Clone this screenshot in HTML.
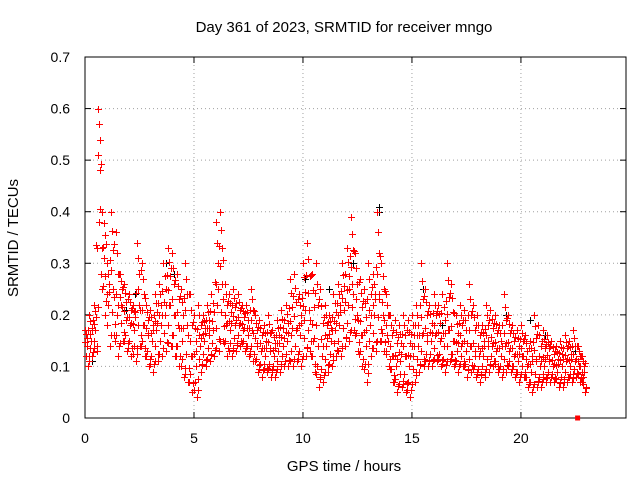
<!DOCTYPE html>
<html><head><meta charset="utf-8"><style>
body{margin:0;background:#fff;}
svg{display:block;font-family:"Liberation Sans",sans-serif;}
</style></head><body>
<svg id="chart" width="640" height="480">
<text x="344" y="32" text-anchor="middle" font-size="15">Day 361 of 2023, SRMTID for receiver mngo</text>
<text x="344" y="471" text-anchor="middle" font-size="15">GPS time / hours</text>
<text transform="translate(18,238) rotate(-90)" text-anchor="middle" font-size="15">SRMTID / TECUs</text>
<g id="grid"></g><g id="axes"></g><g id="marks"></g>
</svg>
<script>
const times=[0,0.2,0.4,0.6,0.8,1,1.2,1.4,1.6,1.8,2,2.2,2.4,2.6,2.8,3,3.2,3.4,3.6,3.8,4,4.2,4.4,4.6,4.8,5,5.2,5.4,5.6,5.8,6,6.2,6.4,6.6,6.8,7,7.2,7.4,7.6,7.8,8,8.2,8.4,8.6,8.8,9,9.2,9.4,9.6,9.8,10,10.2,10.4,10.6,10.8,11,11.2,11.4,11.6,11.8,12,12.2,12.4,12.6,12.8,13,13.2,13.4,13.6,13.8,14,14.2,14.4,14.6,14.8,15,15.2,15.4,15.6,15.8,16,16.2,16.4,16.6,16.8,17,17.2,17.4,17.6,17.8,18,18.2,18.4,18.6,18.8,19,19.2,19.4,19.6,19.8,20,20.2,20.4,20.6,20.8,21,21.2,21.4,21.6,21.8,22,22.2,22.4,22.6,22.8];
const hiVals=[.17,.20,.22,.60,.40,.30,.40,.36,.28,.26,.24,.22,.34,.30,.22,.21,.24,.26,.30,.33,.32,.28,.25,.30,.24,.20,.22,.20,.22,.24,.38,.40,.26,.24,.25,.24,.22,.22,.25,.20,.19,.18,.20,.17,.19,.21,.22,.27,.28,.24,.30,.34,.28,.30,.25,.22,.20,.24,.26,.30,.33,.39,.32,.27,.25,.30,.28,.40,.30,.24,.20,.19,.18,.20,.19,.20,.22,.30,.25,.22,.24,.22,.24,.30,.26,.20,.22,.21,.26,.22,.20,.18,.22,.21,.20,.18,.24,.20,.18,.17,.18,.16,.15,.20,.18,.17,.16,.15,.14,.15,.16,.15,.17,.14,.12];
const midVals=[.14,.15,.17,.48,.31,.22,.25,.20,.22,.19,.18,.17,.22,.18,.16,.15,.17,.18,.20,.22,.20,.18,.15,.18,.12,.10,.14,.15,.16,.17,.22,.26,.18,.17,.18,.18,.17,.16,.17,.14,.13,.12,.13,.12,.13,.14,.15,.16,.17,.16,.19,.21,.15,.14,.12,.14,.15,.17,.18,.21,.22,.26,.20,.16,.14,.18,.20,.24,.20,.16,.12,.10,.11,.12,.10,.12,.14,.16,.15,.15,.16,.15,.14,.17,.15,.13,.14,.13,.14,.12,.12,.12,.14,.14,.13,.12,.14,.13,.12,.11,.12,.10,.09,.11,.10,.10,.11,.10,.09,.10,.11,.10,.11,.10,.08];
const loVals=[.10,.12,.13,.28,.20,.14,.16,.12,.15,.13,.12,.11,.14,.12,.10,.09,.11,.12,.13,.14,.12,.10,.08,.07,.05,.04,.09,.10,.11,.12,.13,.15,.12,.12,.13,.14,.13,.12,.11,.09,.08,.09,.08,.08,.09,.10,.10,.10,.11,.10,.12,.13,.09,.06,.07,.09,.10,.12,.12,.14,.15,.17,.13,.10,.07,.12,.13,.15,.13,.10,.07,.05,.06,.05,.04,.07,.09,.10,.10,.10,.11,.10,.09,.11,.10,.09,.10,.08,.09,.08,.07,.08,.09,.10,.09,.08,.09,.09,.08,.07,.08,.06,.05,.06,.06,.07,.07,.07,.06,.06,.07,.07,.08,.07,.05];
const blackTimes=[0.3,1.9,2.3,3.7,4.1,7.1,10.1,11.2,12.3,13.5,13.5,15.5,16.4,19.3,20.4,21.1,22.5];
const blackVals=[.11,.21,.24,.30,.28,.21,.27,.25,.30,.41,.40,.25,.18,.20,.19,.16,.13];
const xTicks=[0,5,10,15,20];
const yTicks=[0,0.1,0.2,0.3,0.4,0.5,0.6,0.7];
const yTickLabels=["0","0.1","0.2","0.3","0.4","0.5","0.6","0.7"];

const L=85,R=626,T=57,B=418,XMAX=24.82,YMAX=0.7;
const xs=v=>L+v/XMAX*(R-L);
const ys=v=>B-v/YMAX*(B-T);
const NS="http://www.w3.org/2000/svg";
function mk(tag,attrs,parent){const e=document.createElementNS(NS,tag);for(const k in attrs)e.setAttribute(k,attrs[k]);parent.appendChild(e);return e;}
const grid=document.getElementById('grid'),axes=document.getElementById('axes'),marks=document.getElementById('marks');
xTicks.forEach(t=>{
  const x=xs(t);
  if(t>0){const g=mk('line',{x1:x,x2:x,y1:T,y2:B,stroke:'#a0a0a0','stroke-dasharray':'1,3'},grid);
  
  }
  mk('line',{x1:x,x2:x,y1:B,y2:B-6,stroke:'#000'},axes);
  mk('line',{x1:x,x2:x,y1:T,y2:T+6,stroke:'#000'},axes);
  const lb=mk('text',{x:x,y:B+25,'text-anchor':'middle','font-size':14},axes);lb.textContent=t;
  
  
});
yTicks.forEach((t,i)=>{
  const y=ys(t);
  if(i>0&&i<yTicks.length-1){const g=mk('line',{x1:L,x2:R,y1:y,y2:y,stroke:'#a0a0a0','stroke-dasharray':'1,3'},grid);
  
  }
  mk('line',{x1:L,x2:L+6,y1:y,y2:y,stroke:'#000'},axes);
  mk('line',{x1:R,x2:R-6,y1:y,y2:y,stroke:'#000'},axes);
  const lb=mk('text',{x:L-15,y:y+5,'text-anchor':'end','font-size':14},axes);lb.textContent=yTickLabels[i];
  
  
});
const frame=mk('rect',{x:L,y:T,width:R-L,height:B-T,fill:'none',stroke:'#000'},axes);


function plus(t,v,c){
  const x=Math.round(xs(t))+0.5,y=Math.round(ys(v))+0.5;
  const p=mk('path',{d:`M${x-3.5},${y}h7M${x},${y-3.5}v7`,stroke:c,'stroke-width':1,fill:'none'},marks);
  
  
}
blackTimes.forEach((t,i)=>plus(t,blackVals[i],'#000'));
const n=times.length;
times.forEach((t,i)=>{
  const h=hiVals[i],m=midVals[i],l=loVals[i];
  const j=Math.min(i+1,n-1);
  const h2=hiVals[j],m2=midVals[j],l2=loVals[j];
  plus(t,h,'#f00');plus(t+0.07,m,'#f00');plus(t+0.13,l,'#f00');
  plus(t+0.1,(h+m)/2,'#f00');plus(t+0.03,(m+l)/2,'#f00');
  plus(t+0.05,(3*h+m)/4,'#f00');plus(t+0.17,(m+3*l)/4,'#f00');
  plus(t+0.15,(h+h2+m)/3,'#f00');plus(t+0.11,(m+m2)/2+0.01,'#f00');
  plus(t+0.19,(l+l2)/2+0.01,'#f00');plus(t+0.01,(h+3*m)/4,'#f00');
});
const sq=mk('rect',{x:xs(22.6)-2.5,y:ys(0)-2.5,width:5,height:5,fill:'#f00'},marks);


</script>
</body></html>
